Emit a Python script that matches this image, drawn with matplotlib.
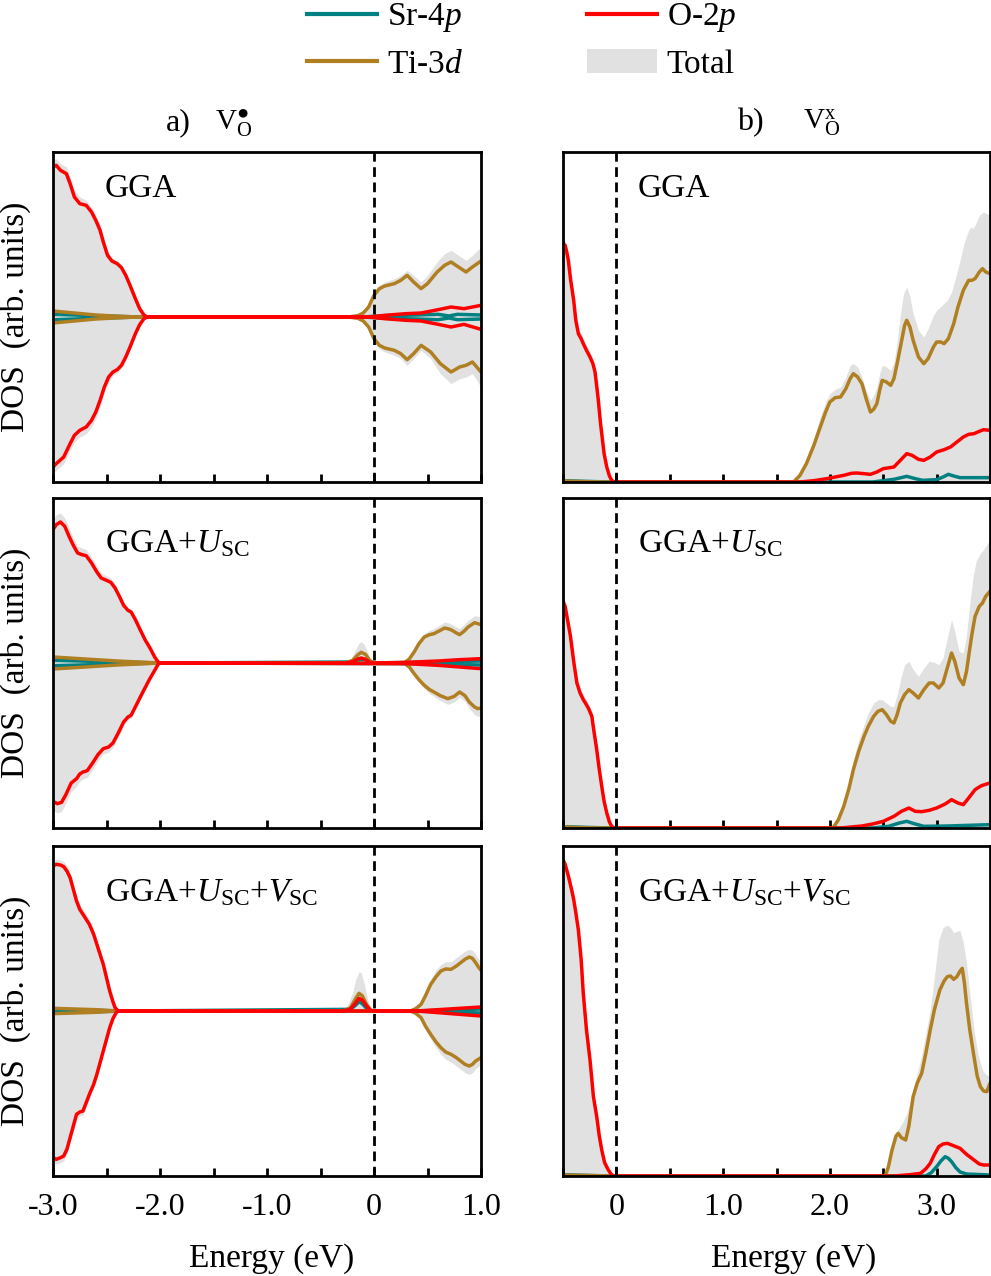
import matplotlib
matplotlib.use('Agg')
import matplotlib.pyplot as plt
from matplotlib.lines import Line2D
from matplotlib.patches import Patch
import numpy as np

plt.rcParams['font.family'] = ['Liberation Serif', 'DejaVu Serif']
plt.rcParams['mathtext.fontset'] = 'custom'
plt.rcParams['mathtext.rm'] = 'Liberation Serif'
plt.rcParams['mathtext.it'] = 'Liberation Serif:italic'
plt.rcParams['mathtext.bf'] = 'Liberation Serif:bold'

SR_C = '#008080'
TI_C = '#B07F21'
O_C = '#FF0000'
TOT_C = '#E1E1E1'

# ---------------- left column (V_O with charge, spin polarised) ----------------
# (energy eV, DOS arb.)  -- row 1: GGA
L1_TOT_UP = np.array([(-3.0,47),(-2.97,47.5),(-2.93,46),(-2.875,45),(-2.84,42),(-2.8,38),(-2.75,36),(-2.69,35),(-2.64,33),(-2.6,30.5),(-2.56,27.5),(-2.53,24),(-2.49,19.5),(-2.45,17.8),(-2.4,16.8),(-2.36,15.5),(-2.32,13),(-2.28,10),(-2.23,6),(-2.19,2.8),(-2.15,0.7),(-2.12,0),(-0.24,0),(-0.15,0.5),(-0.1,1.5),(-0.05,3.5),(0.0,7.5),(0.05,9.5),(0.1,10.5),(0.19,11.5),(0.25,12.5),(0.31,14),(0.37,12.5),(0.44,10.5),(0.5,12.5),(0.59,16.5),(0.66,19),(0.72,20),(0.79,18.5),(0.86,17),(0.92,18.5),(1.0,21)])
L1_TOT_DN = np.array([(-3.0,-47),(-2.97,-46),(-2.9,-44),(-2.84,-40),(-2.8,-37.5),(-2.75,-36),(-2.69,-35),(-2.64,-33),(-2.6,-30.5),(-2.56,-27),(-2.52,-22.5),(-2.48,-19.5),(-2.44,-17.5),(-2.4,-16.8),(-2.36,-15.3),(-2.32,-12.8),(-2.28,-9.8),(-2.23,-5.6),(-2.19,-2.6),(-2.15,-0.6),(-2.12,0),(-0.24,0),(-0.15,-0.5),(-0.1,-1.5),(-0.05,-3.5),(0.0,-7.5),(0.05,-9.5),(0.1,-10.5),(0.19,-11.5),(0.25,-12.5),(0.31,-14.5),(0.37,-12.5),(0.44,-10),(0.53,-12.5),(0.62,-17),(0.72,-20),(0.8,-18.5),(0.86,-18),(0.92,-17),(1.0,-21)])
L1_O_UP = np.array([(-3.0,45),(-2.97,45.5),(-2.93,44),(-2.875,43),(-2.84,40),(-2.8,36),(-2.75,34),(-2.69,33.5),(-2.64,31.5),(-2.6,29),(-2.56,26),(-2.53,22.5),(-2.49,18.5),(-2.45,16.8),(-2.4,16),(-2.36,14.8),(-2.32,12.5),(-2.28,9.5),(-2.23,5.5),(-2.19,2.5),(-2.15,0.6),(-2.12,0),(-0.05,0),(0.1,0.5),(0.3,1.0),(0.44,1.2),(0.6,2.2),(0.72,3.0),(0.84,2.5),(1.0,3.5)])
L1_O_DN = np.array([(-3.0,-45),(-2.97,-44),(-2.9,-42),(-2.84,-38),(-2.8,-35.5),(-2.75,-34),(-2.69,-33),(-2.64,-31),(-2.6,-28.5),(-2.56,-25),(-2.52,-21),(-2.48,-18),(-2.44,-16.5),(-2.4,-15.8),(-2.36,-14.5),(-2.32,-12),(-2.28,-9),(-2.23,-5),(-2.19,-2.3),(-2.15,-0.5),(-2.12,0),(-0.05,0),(0.1,-0.5),(0.3,-1.0),(0.44,-1.2),(0.6,-2.2),(0.72,-3.0),(0.84,-2.2),(1.0,-3.7)])
L1_TI_UP = np.array([(-3.0,1.8),(-2.8,1.2),(-2.6,0.6),(-2.4,0.25),(-2.2,0),(-0.24,0),(-0.15,0.4),(-0.1,1.2),(-0.05,3),(0.0,6.5),(0.05,8.5),(0.1,9.3),(0.19,10),(0.25,11),(0.31,12.5),(0.37,10.5),(0.44,8.5),(0.5,10),(0.59,13.5),(0.66,15.5),(0.72,16.5),(0.79,15),(0.86,13.5),(0.92,15),(1.0,16.8)])
L1_TI_DN = np.array([(-3.0,-1.8),(-2.8,-1.2),(-2.6,-0.6),(-2.4,-0.25),(-2.2,0),(-0.24,0),(-0.15,-0.4),(-0.1,-1.2),(-0.05,-3),(0.0,-6.5),(0.05,-8.5),(0.1,-9.3),(0.19,-10),(0.25,-11),(0.31,-12.8),(0.37,-11),(0.44,-8.5),(0.53,-10.5),(0.62,-14),(0.72,-16.5),(0.8,-15),(0.86,-14.5),(0.92,-13.5),(1.0,-16.5)])
L1_SR_UP = np.array([(-3.0,0.8),(-2.6,0.4),(-2.2,0),(-0.1,0),(0.1,0.4),(0.4,0.6),(0.6,0.8),(0.7,0.3),(0.78,0.8),(1.0,0.6)])
L1_SR_DN = np.array([(-3.0,-0.8),(-2.6,-0.4),(-2.2,0),(-0.1,0),(0.1,-0.4),(0.4,-0.6),(0.6,-0.8),(0.7,-0.3),(0.78,-0.8),(1.0,-0.6)])

# row 2: GGA+U
L2_TOT_UP = np.array([(-3.0,43),(-2.97,44.5),(-2.93,45),(-2.89,43.5),(-2.85,40.5),(-2.81,37.5),(-2.77,35),(-2.73,34.5),(-2.69,34),(-2.64,31.8),(-2.59,29),(-2.55,27),(-2.5,26.2),(-2.46,25.5),(-2.42,23.7),(-2.38,21),(-2.34,18.2),(-2.3,16.6),(-2.27,16),(-2.23,13.6),(-2.19,10.8),(-2.14,7.3),(-2.09,4.5),(-2.05,1.9),(-2.01,0),(-0.26,0),(-0.22,0.8),(-0.18,3.5),(-0.14,6),(-0.12,6.4),(-0.09,5.5),(-0.05,2.5),(-0.02,0.5),(0.0,0),(0.28,0),(0.33,1.5),(0.375,3.8),(0.42,6.5),(0.47,8.8),(0.52,9.8),(0.56,10.3),(0.62,11.5),(0.66,12.3),(0.7,12),(0.73,11.5),(0.77,10.8),(0.8,10.3),(0.84,11.5),(0.88,12.8),(0.94,14.2),(1.0,13.8)])
L2_TOT_DN = np.array([(-3.0,-44),(-2.96,-45),(-2.92,-44.5),(-2.88,-42),(-2.83,-38.5),(-2.78,-37),(-2.75,-35.5),(-2.72,-34.8),(-2.68,-34.3),(-2.63,-32),(-2.58,-29.3),(-2.53,-27.3),(-2.48,-26.7),(-2.44,-25.4),(-2.39,-22.2),(-2.34,-18.7),(-2.3,-17.1),(-2.27,-16.5),(-2.22,-13.2),(-2.16,-9.2),(-2.1,-5.3),(-2.06,-3),(-2.01,0),(0.28,0),(0.33,-1.5),(0.375,-3.7),(0.42,-5.8),(0.47,-7.7),(0.52,-9.2),(0.56,-10),(0.62,-11.3),(0.69,-12.4),(0.75,-11.7),(0.8,-10.3),(0.85,-11.5),(0.89,-13.6),(0.94,-15.5),(0.97,-16),(1.0,-15.8)])
L2_O_UP = np.array([(-3.0,40),(-2.97,41.5),(-2.93,42.3),(-2.89,41),(-2.85,38),(-2.81,35.3),(-2.77,33),(-2.73,32.5),(-2.69,32.2),(-2.64,30),(-2.59,27.3),(-2.55,25.5),(-2.5,24.8),(-2.46,24.2),(-2.42,22.5),(-2.38,20),(-2.34,17.3),(-2.3,15.8),(-2.27,15.3),(-2.23,13),(-2.19,10.3),(-2.14,7),(-2.09,4.3),(-2.05,1.8),(-2.01,0),(-0.26,0),(-0.2,0.4),(-0.15,1.2),(-0.12,1.5),(-0.08,1.1),(-0.04,0.2),(0.0,0),(0.3,0.2),(0.6,0.6),(0.8,1.0),(1.0,1.3)])
L2_O_DN = np.array([(-3.0,-41.5),(-2.96,-42.2),(-2.92,-41.8),(-2.88,-39.5),(-2.83,-36),(-2.78,-34.7),(-2.75,-33.3),(-2.72,-32.7),(-2.68,-32.3),(-2.63,-30),(-2.58,-27.5),(-2.53,-25.7),(-2.48,-25.2),(-2.44,-24),(-2.39,-21),(-2.34,-17.7),(-2.3,-16.2),(-2.27,-15.7),(-2.22,-12.5),(-2.16,-8.7),(-2.1,-5),(-2.06,-2.8),(-2.01,0),(0.3,-0.2),(0.6,-0.7),(0.8,-1.2),(1.0,-1.7)])
L2_TI_UP = np.array([(-3.0,1.8),(-2.7,1.2),(-2.4,0.6),(-2.0,0),(-0.26,0),(-0.2,0.8),(-0.15,2.5),(-0.12,3.2),(-0.08,2.6),(-0.04,0.8),(0.0,0),(0.28,0),(0.33,1.2),(0.375,3.3),(0.42,5.8),(0.47,7.8),(0.52,8.5),(0.56,8.8),(0.62,9.8),(0.66,10.5),(0.7,10.2),(0.73,9.8),(0.77,9),(0.8,8.5),(0.84,9.5),(0.88,10.8),(0.94,12.1),(1.0,11.5)])
L2_TI_DN = np.array([(-3.0,-1.8),(-2.7,-1.2),(-2.4,-0.6),(-2.0,0),(0.28,0),(0.33,-1.2),(0.375,-3.2),(0.42,-5),(0.47,-6.7),(0.52,-8),(0.56,-8.7),(0.62,-9.8),(0.69,-10.7),(0.75,-10),(0.8,-8.7),(0.85,-9.8),(0.89,-11.7),(0.94,-13.2),(0.97,-13.7),(1.0,-13.5)])
L2_SR_UP = np.array([(-3.0,0.8),(-2.5,0.4),(-2.0,0),(-0.2,0.3),(-0.12,1.0),(-0.05,0.3),(0.0,0),(0.4,0.2),(0.7,0.4),(1.0,0.6)])
L2_SR_DN = np.array([(-3.0,-0.8),(-2.5,-0.4),(-2.0,0),(0.4,-0.2),(0.7,-0.4),(1.0,-0.6)])

# row 3: GGA+U+V
L3_TOT_UP = np.array([(-3.0,45),(-2.97,45.5),(-2.93,45.3),(-2.9,44.8),(-2.87,43.5),(-2.84,41.5),(-2.81,38),(-2.78,34.5),(-2.75,32),(-2.72,30.5),(-2.69,29),(-2.66,27.3),(-2.62,24.2),(-2.59,21),(-2.56,18),(-2.53,14.8),(-2.5,10.7),(-2.47,6.5),(-2.44,3),(-2.42,1.1),(-2.39,0),(-0.3,0),(-0.25,1.5),(-0.2,5.5),(-0.17,9.5),(-0.14,11.8),(-0.12,11.5),(-0.09,8),(-0.06,3.5),(-0.03,0.8),(0.0,0),(0.34,0),(0.39,0.9),(0.44,2.5),(0.48,5.5),(0.53,9.5),(0.58,12.3),(0.625,14),(0.67,14.8),(0.72,14.8),(0.77,16),(0.81,17),(0.85,18),(0.89,18.5),(0.92,18.2),(0.95,17),(0.98,15.5),(1.0,14.8)])
L3_TOT_DN = np.array([(-3.0,-45.5),(-2.97,-46),(-2.93,-45.5),(-2.9,-45),(-2.87,-43),(-2.84,-39.5),(-2.81,-36),(-2.78,-32.3),(-2.75,-31.5),(-2.72,-31.2),(-2.69,-28.7),(-2.66,-26.2),(-2.62,-23),(-2.59,-20),(-2.56,-16.3),(-2.53,-12.7),(-2.5,-9),(-2.47,-5.3),(-2.44,-2.5),(-2.41,-0.6),(-2.39,0),(0.34,0),(0.39,-0.9),(0.44,-2.5),(0.48,-5.5),(0.53,-8.5),(0.58,-11),(0.625,-13),(0.67,-14.5),(0.72,-15.3),(0.77,-16.5),(0.81,-17.5),(0.85,-18.5),(0.89,-19),(0.92,-18.5),(0.95,-17.3),(1.0,-16)])
L3_O_UP = np.array([(-3.0,43.5),(-2.97,44),(-2.93,43.8),(-2.9,43.3),(-2.87,42),(-2.84,40),(-2.81,36.5),(-2.78,33),(-2.75,30.5),(-2.72,29),(-2.69,27.5),(-2.66,26),(-2.62,23),(-2.59,20),(-2.56,17),(-2.53,14),(-2.5,10),(-2.47,6),(-2.44,2.8),(-2.42,1),(-2.39,0),(-0.28,0),(-0.22,0.6),(-0.17,2.5),(-0.14,3.8),(-0.11,3.3),(-0.07,1.5),(-0.03,0.1),(0.0,0),(0.4,0),(0.6,0.4),(0.8,0.8),(1.0,1.2)])
L3_O_DN = np.array([(-3.0,-44),(-2.97,-44.5),(-2.93,-44),(-2.9,-43.5),(-2.87,-41.5),(-2.84,-38),(-2.81,-34.5),(-2.78,-31),(-2.75,-30.3),(-2.72,-30),(-2.69,-27.5),(-2.66,-25),(-2.62,-22),(-2.59,-19),(-2.56,-15.5),(-2.53,-12),(-2.5,-8.5),(-2.47,-5),(-2.44,-2.3),(-2.41,-0.5),(-2.39,0),(0.4,0),(0.6,-0.5),(0.8,-1.0),(1.0,-1.5)])
L3_TI_UP = np.array([(-3.0,0.8),(-2.6,0.4),(-2.39,0),(-0.28,0),(-0.22,1),(-0.17,3.8),(-0.14,5.3),(-0.11,4.6),(-0.07,2),(-0.03,0.2),(0.0,0),(0.34,0),(0.39,0.7),(0.44,2),(0.48,4.5),(0.53,8),(0.58,10.3),(0.625,12),(0.67,12.6),(0.72,12.5),(0.77,13.5),(0.81,14.5),(0.85,15.5),(0.89,16.2),(0.92,15.8),(0.95,14.5),(0.98,13),(1.0,12.2)])
L3_TI_DN = np.array([(-3.0,-0.8),(-2.6,-0.4),(-2.39,0),(0.34,0),(0.39,-0.7),(0.44,-2),(0.48,-4.5),(0.53,-7),(0.58,-9.3),(0.625,-11),(0.67,-12.3),(0.72,-13),(0.77,-14),(0.81,-15),(0.85,-16),(0.89,-16.5),(0.92,-16),(0.95,-15),(1.0,-14)])
L3_SR_UP = np.array([(-3.0,0.5),(-2.6,0.2),(-2.39,0),(-0.22,0.5),(-0.17,1.8),(-0.14,2.8),(-0.11,2.2),(-0.06,0.5),(0.0,0),(0.5,0.1),(0.8,0.4),(1.0,0.6)])
L3_SR_DN = np.array([(-3.0,-0.5),(-2.6,-0.2),(-2.39,0),(0.5,-0.1),(0.8,-0.4),(1.0,-0.6)])

# ---------------- right column (neutral V_O, non spin polarised) ----------------
R1_TOT = np.array([(-0.5,73),(-0.48,72.5),(-0.465,70.5),(-0.45,68),(-0.43,62.5),(-0.40,56),(-0.38,50),(-0.356,46),(-0.33,44.5),(-0.31,43),(-0.28,41),(-0.247,39),(-0.22,37),(-0.2,34.5),(-0.185,30.5),(-0.169,26),(-0.15,19.5),(-0.137,15.8),(-0.115,9.5),(-0.09,5.2),(-0.065,2.2),(-0.044,0.7),(-0.02,0),(1.66,0),(1.72,2.2),(1.78,6.5),(1.85,13),(1.91,19.5),(1.96,24),(2.0,26.5),(2.05,27.8),(2.1,28.5),(2.15,31.5),(2.19,35),(2.22,35.5),(2.26,34.5),(2.3,31.5),(2.34,27.5),(2.38,24.5),(2.41,26),(2.44,28.5),(2.47,33),(2.49,35),(2.53,34.5),(2.57,33.5),(2.6,36),(2.63,42),(2.66,50),(2.69,56.5),(2.72,58.5),(2.75,55.5),(2.78,50.5),(2.83,45.5),(2.88,43.5),(2.92,46),(2.97,50),(3.0,51.5),(3.05,53),(3.1,54.5),(3.14,57),(3.18,61.5),(3.22,66.5),(3.26,72),(3.3,75.5),(3.32,76.5),(3.34,76),(3.36,77),(3.4,80),(3.44,81),(3.47,80.5),(3.5,80)])
R1_O = np.array([(-0.5,71.5),(-0.48,71),(-0.465,69),(-0.45,66.5),(-0.43,61),(-0.40,54.5),(-0.38,48.5),(-0.356,44.5),(-0.33,43),(-0.31,41.5),(-0.28,39.5),(-0.247,37.5),(-0.22,35.5),(-0.2,33),(-0.185,29),(-0.169,24.5),(-0.15,18),(-0.137,14.5),(-0.115,8.5),(-0.09,4.5),(-0.065,1.8),(-0.044,0.5),(-0.02,0),(1.72,0),(1.85,0.4),(1.97,1),(2.05,1.5),(2.13,2),(2.2,2.6),(2.25,2.7),(2.32,2.5),(2.38,2.3),(2.44,3),(2.5,4),(2.6,4.5),(2.66,6.5),(2.72,8.5),(2.77,8),(2.83,6.8),(2.88,6.5),(2.94,7.5),(3.0,9),(3.07,9.7),(3.13,10.5),(3.19,12),(3.25,13.5),(3.3,14.3),(3.35,14.5),(3.4,15.2),(3.44,15.7),(3.5,15.5)])
R1_TI = np.array([(-0.5,0.3),(-0.3,0.1),(-0.1,0),(1.66,0),(1.72,2),(1.78,5.5),(1.85,11),(1.91,16.5),(1.96,21),(2.0,24),(2.05,25.3),(2.1,25.5),(2.15,28),(2.19,31),(2.22,32.5),(2.26,31.5),(2.3,29.5),(2.34,25),(2.38,21),(2.41,21.8),(2.44,23.5),(2.47,28),(2.49,30.5),(2.53,30),(2.57,29),(2.6,31),(2.63,35.5),(2.67,42),(2.7,47),(2.72,48.5),(2.75,46.5),(2.78,42.5),(2.83,37.5),(2.88,35.5),(2.92,37),(2.97,40.5),(3.0,42),(3.04,42),(3.07,41.5),(3.11,43),(3.16,47.5),(3.2,52.5),(3.25,57.5),(3.3,60.5),(3.33,60.5),(3.36,61),(3.4,63),(3.43,64),(3.46,63),(3.5,62.5)])
R1_SR = np.array([(-0.5,0.4),(-0.3,0.2),(-0.05,0),(2.4,0),(2.6,0.8),(2.72,1.7),(2.8,1.0),(2.87,0.5),(3.0,0.7),(3.06,1.5),(3.11,2.3),(3.16,1.8),(3.22,1.3),(3.5,1.3)])

R2_TOT = np.array([(-0.5,69.5),(-0.48,68),(-0.455,63.5),(-0.43,59),(-0.4,51.5),(-0.37,45),(-0.34,42),(-0.31,40),(-0.29,39),(-0.26,37.2),(-0.23,35),(-0.21,30.5),(-0.184,25),(-0.16,19),(-0.137,13.8),(-0.115,9),(-0.09,5.2),(-0.065,2.2),(-0.044,0.7),(-0.02,0),(2.03,0),(2.08,2.8),(2.13,7.5),(2.18,14),(2.22,20.5),(2.27,26.5),(2.32,31),(2.36,34.5),(2.41,37.5),(2.45,38.5),(2.49,38.5),(2.53,37.5),(2.57,36.5),(2.6,36.5),(2.63,40),(2.67,45.5),(2.7,49),(2.74,50),(2.78,47.5),(2.83,45.5),(2.88,48),(2.93,50),(2.97,49.8),(3.02,49),(3.06,51),(3.1,57),(3.14,62.5),(3.17,59),(3.21,53),(3.25,52.5),(3.28,58),(3.31,67),(3.34,75),(3.37,80),(3.41,82.5),(3.44,83.5),(3.47,85),(3.5,86.5)])
R2_O = np.array([(-0.5,68),(-0.48,66.5),(-0.455,62),(-0.43,57.5),(-0.4,50),(-0.37,43.5),(-0.34,40.5),(-0.31,38.5),(-0.29,37.5),(-0.26,35.8),(-0.23,33.5),(-0.21,29),(-0.184,23.5),(-0.16,17.5),(-0.137,12.5),(-0.115,8),(-0.09,4.5),(-0.065,1.8),(-0.044,0.5),(-0.02,0),(2.1,0),(2.3,0.6),(2.4,1.2),(2.5,2),(2.6,3.5),(2.67,5),(2.74,6),(2.8,5),(2.86,4.9),(2.93,5.3),(3.0,6),(3.08,7.2),(3.14,8.5),(3.2,7.5),(3.25,7),(3.3,9),(3.36,11.5),(3.42,12.7),(3.5,13.5)])
R2_TI = np.array([(-0.5,0.3),(-0.3,0.1),(-0.1,0),(2.03,0),(2.08,2.5),(2.13,6.5),(2.18,12),(2.22,17.5),(2.27,23),(2.32,27.5),(2.36,30.5),(2.41,33.5),(2.45,35),(2.49,35.5),(2.53,34),(2.57,32),(2.6,31.5),(2.63,34),(2.66,37.5),(2.7,40),(2.74,41.5),(2.78,40.5),(2.83,39),(2.88,41.5),(2.93,43.5),(2.97,43.5),(3.02,42),(3.06,43.5),(3.1,48),(3.14,52.5),(3.17,50),(3.21,45),(3.25,43),(3.28,47),(3.3,51.5),(3.33,58),(3.36,63.5),(3.4,66.5),(3.43,67.5),(3.46,69.5),(3.5,71)])
R2_SR = np.array([(-0.5,0.4),(-0.3,0.2),(-0.05,0),(2.4,0),(2.55,0.5),(2.65,1.5),(2.72,2),(2.8,1.2),(2.88,0.5),(3.1,0.6),(3.3,0.8),(3.5,1)])

R3_TOT = np.array([(-0.5,96.5),(-0.48,95),(-0.45,91.5),(-0.42,87.5),(-0.4,84.5),(-0.38,80.5),(-0.356,75.3),(-0.33,66.5),(-0.31,56.3),(-0.28,45.2),(-0.247,36),(-0.215,24.8),(-0.184,18.6),(-0.16,12.6),(-0.137,8.2),(-0.11,4.3),(-0.075,2),(-0.05,0.7),(-0.028,0),(2.5,0),(2.55,3.5),(2.58,8.5),(2.6,11),(2.64,14),(2.68,16),(2.72,18.8),(2.76,23),(2.8,28.5),(2.85,34.8),(2.9,43),(2.94,49.8),(2.98,60),(3.02,70.8),(3.06,74.5),(3.1,75.3),(3.13,74.5),(3.16,73),(3.19,73.5),(3.22,73.6),(3.25,70),(3.28,63.8),(3.31,55),(3.35,43.8),(3.39,36),(3.43,31.8),(3.46,30.5),(3.5,29.8)])
R3_O = np.array([(-0.5,94.8),(-0.48,93.5),(-0.45,90),(-0.42,86),(-0.4,83),(-0.38,79),(-0.356,73.8),(-0.33,65),(-0.31,54.8),(-0.28,43.8),(-0.247,34.8),(-0.215,23.8),(-0.184,17.8),(-0.16,12),(-0.137,7.8),(-0.11,4),(-0.075,1.8),(-0.05,0.6),(-0.028,0),(2.6,0),(2.75,0.4),(2.85,0.8),(2.9,2.2),(2.94,3.8),(2.98,6.5),(3.02,8.8),(3.06,9.6),(3.1,9.8),(3.15,9.2),(3.22,8.3),(3.28,6.5),(3.35,4.8),(3.4,3.6),(3.44,3.3),(3.5,3.3)])
R3_TI = np.array([(-0.5,0.3),(-0.2,0.1),(0.0,0),(2.52,0),(2.55,3),(2.58,7.5),(2.6,9.8),(2.62,12),(2.64,12.8),(2.67,11.5),(2.71,10.8),(2.74,15),(2.78,23.8),(2.82,28),(2.86,30.8),(2.9,37),(2.94,43.8),(2.98,50),(3.03,55.8),(3.07,58.5),(3.1,59.8),(3.13,60),(3.16,59),(3.19,59.8),(3.22,61.5),(3.24,62.3),(3.26,58),(3.28,51.8),(3.31,44),(3.35,35.8),(3.38,30),(3.41,26.8),(3.44,25.5),(3.47,25.3),(3.5,27.8)])
R3_SR = np.array([(-0.5,0.4),(-0.3,0.2),(-0.05,0),(2.9,0),(2.95,1),(3.0,2.8),(3.04,4.5),(3.08,5.8),(3.11,5.3),(3.14,4.3),(3.18,2.5),(3.22,1.2),(3.28,0.6),(3.5,0.3)])

METHODS = ['GGA', r'GGA+$U_{\mathrm{SC}}$', r'GGA+$U_{\mathrm{SC}}$+$V_{\mathrm{SC}}$']
LEFT_TICKS = [-3.0, -2.0, -1.0, 0.0, 1.0]
LEFT_TICKLABELS = ['-3.0', '-2.0', '-1.0', '0', '1.0']
RIGHT_TICKS = [0.0, 1.0, 2.0, 3.0]
RIGHT_TICKLABELS = ['0', '1.0', '2.0', '3.0']

left_data = [
    (L1_TOT_UP, L1_TOT_DN, L1_SR_UP, L1_SR_DN, L1_TI_UP, L1_TI_DN, L1_O_UP, L1_O_DN),
    (L2_TOT_UP, L2_TOT_DN, L2_SR_UP, L2_SR_DN, L2_TI_UP, L2_TI_DN, L2_O_UP, L2_O_DN),
    (L3_TOT_UP, L3_TOT_DN, L3_SR_UP, L3_SR_DN, L3_TI_UP, L3_TI_DN, L3_O_UP, L3_O_DN),
]
right_data = [
    (R1_TOT, R1_SR, R1_TI, R1_O),
    (R2_TOT, R2_SR, R2_TI, R2_O),
    (R3_TOT, R3_SR, R3_TI, R3_O),
]

W, H = 991, 1276
fig = plt.figure(figsize=(W / 100, H / 100), dpi=100)

rows_px = [(152, 482), (498, 828), (846, 1176)]
lab_y = [0.8645, 0.837, 0.832]
LW = 2.5


def style_axes(ax, ticks, labels, show_labels, xlim):
    for s in ax.spines.values():
        s.set_linewidth(2)
    ax.set_yticks([])
    ax.set_xticks(ticks)
    ax.set_xticks(np.arange(xlim[0], xlim[1] + 0.01, 0.5), minor=True)
    ax.tick_params(axis='x', which='both', direction='in', length=6, width=2,
                   top=False, labelsize=23, pad=12)
    if show_labels:
        ax.set_xticklabels(labels)
    else:
        ax.set_xticklabels([])
    ax.set_xlim(*xlim)


def line(ax, arr, color):
    ax.plot(arr[:, 0], arr[:, 1], color=color, lw=LW, solid_capstyle='round')


for i, (top, bot) in enumerate(rows_px):
    y0 = 1 - bot / H
    h = (bot - top) / H
    # left panel
    ax = fig.add_axes([53 / W, y0, 428 / W, h])
    tu, td, su, sd, tiu, tid, ou, od = left_data[i]
    ax.fill_between(tu[:, 0], 0, tu[:, 1], color=TOT_C, lw=0)
    ax.fill_between(td[:, 0], 0, td[:, 1], color=TOT_C, lw=0)
    for arr in (su, sd):
        line(ax, arr, SR_C)
    for arr in (tiu, tid):
        line(ax, arr, TI_C)
    for arr in (ou, od):
        line(ax, arr, O_C)
    ax.axvline(0, color='k', lw=2, dashes=(3.5, 2))
    ax.set_ylim(-49.5, 49.5)
    style_axes(ax, LEFT_TICKS, LEFT_TICKLABELS, i == 2, (-3.0, 1.0))
    ax.text(0.1215, lab_y[i], METHODS[i], transform=ax.transAxes, fontsize=24,
            va='baseline', ha='left')
    fig.text(15 / W, y0 + h / 2, 'DOS  (arb. units)', rotation=90, fontsize=24,
             ha='center', va='center')

    # right panel
    ax = fig.add_axes([563 / W, y0, 427 / W, h])
    tot, sr, ti, o = right_data[i]
    ax.fill_between(tot[:, 0], 0, tot[:, 1], color=TOT_C, lw=0)
    line(ax, sr, SR_C)
    line(ax, ti, TI_C)
    line(ax, o, O_C)
    ax.axvline(0, color='k', lw=2, dashes=(3.5, 2))
    ax.set_ylim(0, 99)
    style_axes(ax, RIGHT_TICKS, RIGHT_TICKLABELS, i == 2, (-0.5, 3.5))
    ax.text(0.1756, lab_y[i], METHODS[i], transform=ax.transAxes, fontsize=24,
            va='baseline', ha='left')

# column titles
fig.text(166 / W, 1 - 130 / H, 'a)', fontsize=23, va='baseline', ha='left')
fig.text(215 / W, 1 - 130 / H, '$\\mathrm{V}_{\\mathrm{O}}^{\\mathrm{\u25CF}}$', fontsize=21,
         va='baseline', ha='left')
fig.text(737 / W, 1 - 130 / H, 'b)', fontsize=23, va='baseline', ha='left')
fig.text(803 / W, 1 - 130 / H, r'$\mathrm{V}_{\mathrm{O}}^{\mathrm{x}}$', fontsize=21,
         va='baseline', ha='left')

# x labels
fig.text(272 / W, 1 - 1259 / H, 'Energy (eV)', fontsize=24, ha='center', va='center')
fig.text(794 / W, 1 - 1259 / H, 'Energy (eV)', fontsize=24, ha='center', va='center')

# legend
handles = [Line2D([], [], color=SR_C, lw=3),
           Line2D([], [], color=TI_C, lw=3),
           Line2D([], [], color=O_C, lw=3),
           Patch(facecolor=TOT_C, edgecolor='none')]
labels = [r'Sr-4$p$', r'Ti-3$d$', r'O-2$p$', 'Total']
fig.legend(handles, labels, ncol=2, loc='upper left', bbox_to_anchor=(307 / W, 0.999),
           frameon=False, fontsize=24, handlelength=2.1, handletextpad=0.3,
           columnspacing=3.7, labelspacing=0.45, borderpad=0, borderaxespad=0)

fig.savefig('out.png', dpi=100)
